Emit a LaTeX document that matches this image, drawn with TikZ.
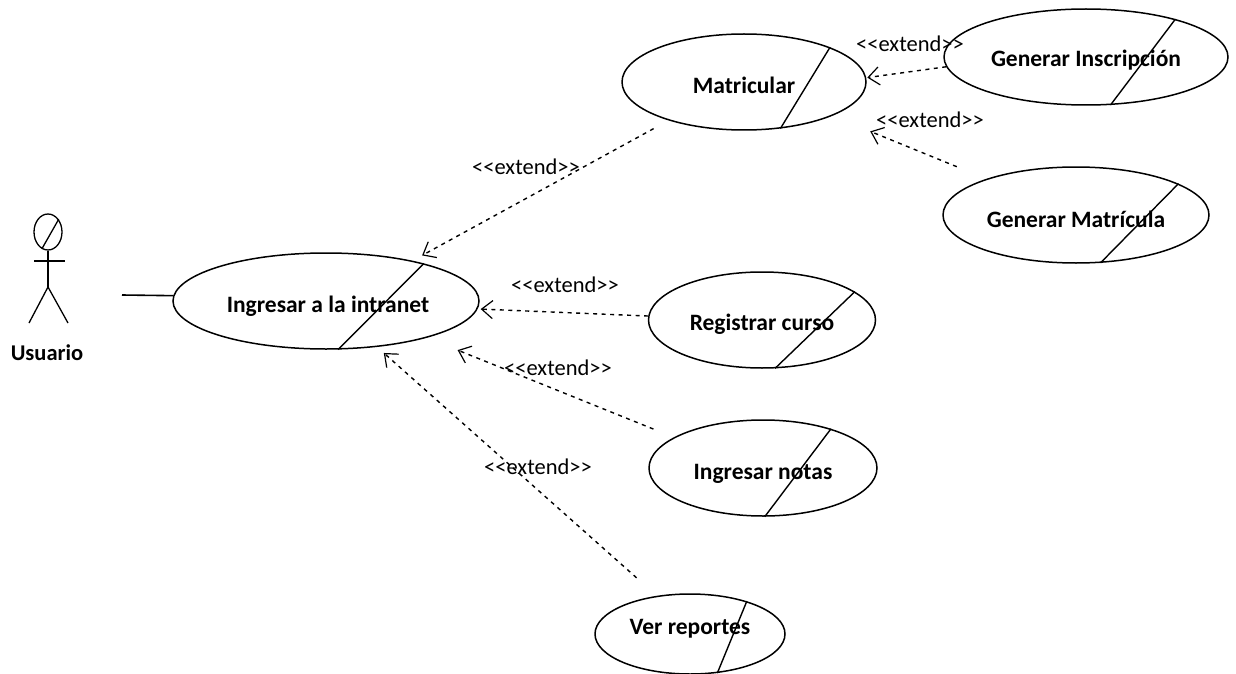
\documentclass[tikz,border=0pt]{standalone}
\usepackage{fontspec}
\setmainfont{Carlito}
\usetikzlibrary{shapes.geometric,arrows.meta}
\newcommand{\lowered}[2]{\raisebox{#1}[0pt][0pt]{#2}}
\tikzset{
  usecase/.style={ellipse,draw,line width=1.5pt,inner sep=0pt,font=\fontsize{23.5}{26}\selectfont\bfseries,text=black},
  slash/.style={line width=1.4pt},
  dep/.style={line width=1.4pt,dash pattern=on 4pt off 4.5pt,-{Straight Barb[length=11pt,width=18pt,line width=1.2pt]}},
  stereo/.style={font=\fontsize{22.5}{26}\selectfont,inner sep=0pt},
  actorline/.style={line width=1.3pt}
}
\begin{document}
\begin{tikzpicture}[x=1pt,y=-1pt]
\useasboundingbox (0,0) rectangle (1236,674);
\node[usecase,minimum width=306pt,minimum height=96pt] (ing) at (326,301) {\hspace{4pt}\lowered{-11pt}{Ingresar a la intranet}};
\node[usecase,minimum width=244pt,minimum height=96pt] (mat) at (744,82) {\lowered{-12pt}{Matricular}};
\node[usecase,minimum width=284pt,minimum height=96pt] (ins) at (1086,57) {\lowered{-10pt}{Generar Inscripción}};
\node[usecase,minimum width=266pt,minimum height=96pt] (gma) at (1076,215) {\lowered{-12pt}{Generar Matrícula}};
\node[usecase,minimum width=227pt,minimum height=96pt] (reg) at (762,320) {\lowered{-10pt}{Registrar curso}};
\node[usecase,minimum width=228pt,minimum height=96pt] (not) at (763,468) {\lowered{-11pt}{Ingresar notas}};
\node[usecase,minimum width=190pt,minimum height=80pt] (ver) at (690,634) {\lowered{0pt}{Ver reportes}};
\draw[slash] (ing.21) -- (ing.-76);
\draw[slash] (mat.22) -- (mat.-52);
\draw[slash] (ins.23) -- (ins.-63);
\draw[slash] (gma.17) -- (gma.-63);
\draw[slash] (reg.17) -- (reg.-75);
\draw[slash] (not.30) -- (not.-88);
\draw[slash] (ver.30) -- (ver.-55);
% actor
\node[ellipse,draw,line width=1.3pt,minimum width=28pt,minimum height=36pt,inner sep=0pt] (head) at (48,232) {};
\coordinate (hip) at (48,287);
\coordinate (armL) at (34,261);
\coordinate (armR) at (65,261);
\coordinate (legL) at (29,323);
\coordinate (legR) at (68,323);
\coordinate (assoc) at (122,295);
\draw[actorline] (head.south) -- (hip);
\draw[line width=2.2pt] (armL) -- (armR);
\draw[actorline] (legL) -- (hip) -- (legR);
\draw[actorline] (head.-110) -- (head.50);
\node[font=\fontsize{22.5}{26}\selectfont\bfseries,inner sep=0pt] (usr) at (47,353) {Usuario};
\draw[line width=1.6pt] (assoc) -- (ing.178);
% dependencies
\draw[dep,shorten <=17pt,shorten >=11pt] (mat.207) -- (ing.25.6);
\draw[dep,shorten <=0pt,shorten >=1pt] (ins.184.4) -- (mat.2.8);
\draw[dep,shorten <=32pt,shorten >=41pt] (gma.158.4) -- (mat.-21.6);
\draw[dep,shorten <=0pt,shorten >=3pt] (reg.178) -- (ing.-3.3);
\draw[dep,shorten <=22pt,shorten >=33pt] (not.161.6) -- (ing.-20.5);
\draw[dep,shorten <=27pt,shorten >=9pt] (ver.131) -- (ing.-42);
% labels
\node[stereo] (l1) at (526,167) {<{}<extend>{}>};
\node[stereo] (l2) at (910,44) {<{}<extend>{}>};
\node[stereo] (l3) at (930,120) {<{}<extend>{}>};
\node[stereo] (l4) at (565,285) {<{}<extend>{}>};
\node[stereo] (l5) at (558,368) {<{}<extend>{}>};
\node[stereo] (l6) at (538,467) {<{}<extend>{}>};
\end{tikzpicture}
\end{document}
